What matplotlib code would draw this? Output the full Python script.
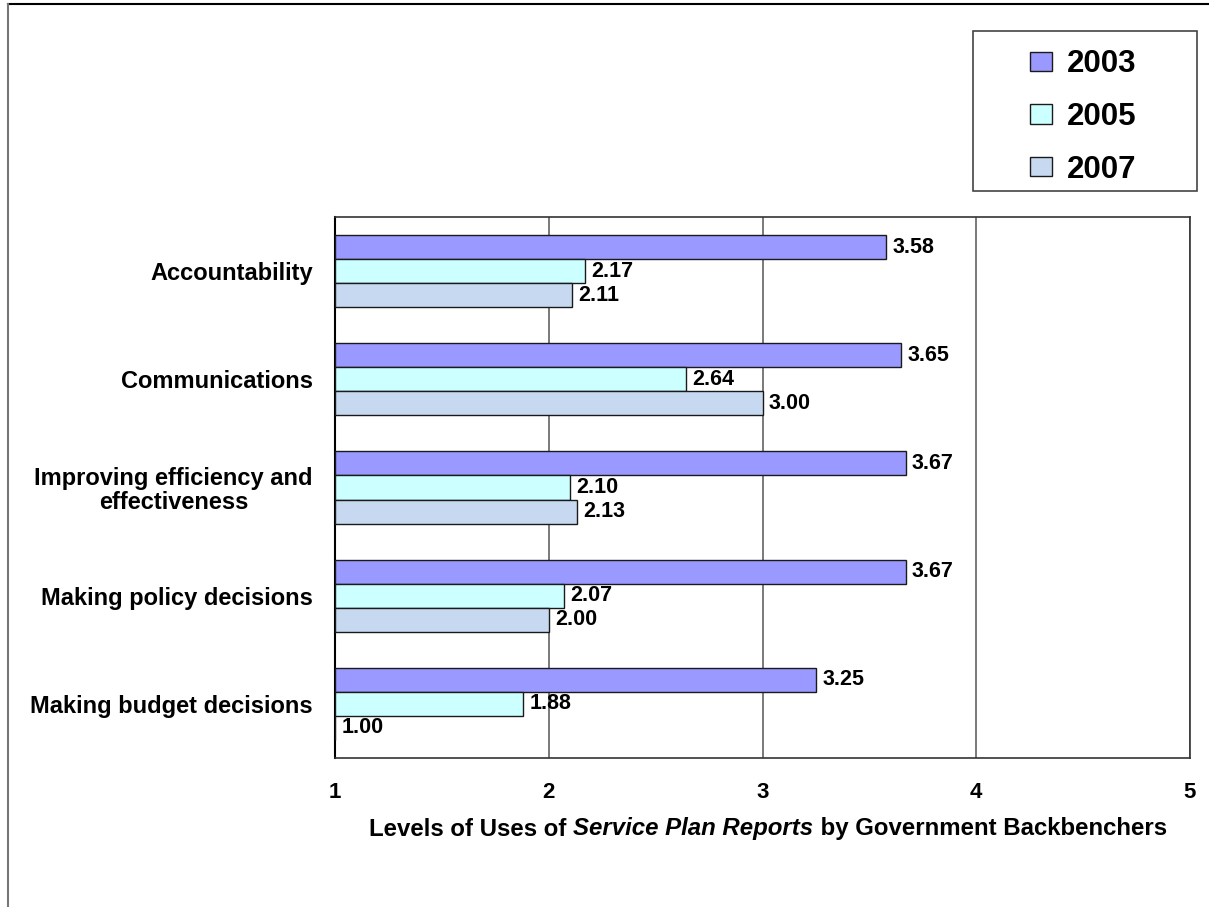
import matplotlib
matplotlib.use('Agg')
import matplotlib.pyplot as plt
from matplotlib.lines import Line2D
from matplotlib.patches import Rectangle
import numpy as np

plt.rcParams['font.family'] = ['Liberation Sans', 'DejaVu Sans']
plt.rcParams['font.weight'] = 'bold'

# survey purposes, top to bottom
uses = ['Accountability', 'Communications', 'Improving efficiency and\neffectiveness',
        'Making policy decisions', 'Making budget decisions']
years = ['2003', '2005', '2007']
score_2003 = [3.58, 3.65, 3.67, 3.67, 3.25]
score_2005 = [2.17, 2.64, 2.10, 2.07, 1.88]
score_2007 = [2.11, 3.00, 2.13, 2.00, 1.00]
colours = ['#9999FF', '#CCFFFF', '#C6D9F0']
x_ticks = [1, 2, 3, 4, 5]

W, H = 1209, 907
fig = plt.figure(figsize=(W / 100, H / 100), dpi=100)
ax = fig.add_axes([335 / W, 1 - 758 / H, (1190 - 335) / W, (758 - 217) / H])

base = 1.0
bar_h = 0.222
pos = np.arange(len(uses))
series = [score_2003, score_2005, score_2007]
handles = []
for k, (vals, col, yr) in enumerate(zip(series, colours, years)):
    ypos = pos - bar_h + k * bar_h
    widths = [v - base for v in vals]
    b = ax.barh(ypos, widths, height=bar_h, left=base, color=col,
                edgecolor='#1a1a1a', linewidth=1.0, label=yr, zorder=3)
    handles.append(b)
    for y, v in zip(ypos, vals):
        ax.annotate('%.2f' % v, (v, y), xytext=(4.5, 0), textcoords='offset points',
                    ha='left', va='center', fontsize=15.5, fontweight='bold', zorder=4)

ax.set_xlim(1, 5)
ax.set_ylim(len(uses) - 0.5, -0.5)
ax.set_xticks(x_ticks)
ax.set_xticklabels([str(t) for t in x_ticks], fontsize=16, fontweight='bold')
ax.tick_params(axis='x', length=0, pad=17.5)
ax.set_yticks(pos)
ax.set_yticklabels(uses, fontsize=17, fontweight='bold', multialignment='center',
                   linespacing=1.05)
ax.tick_params(axis='y', length=0, pad=16)
ax.grid(axis='x', color='#555555', linewidth=1.1, zorder=0)
for s in ax.spines.values():
    s.set_color('#333333')
    s.set_linewidth(1.2)
ax.spines['left'].set_color('black')
ax.spines['left'].set_linewidth(1.5)

# x-axis title with the italic report name in the middle
parts = [('Levels of Uses of ', 'normal'), ('Service Plan Reports', 'italic'),
         (' by Government Backbenchers', 'normal')]
renderer = fig.canvas.get_renderer()
texts = []
for txt, style in parts:
    t = fig.text(0, 1 - 829 / H, txt, fontsize=17.3, fontweight='bold', style=style,
                 ha='left', va='center')
    texts.append(t)
widths = [t.get_window_extent(renderer).width for t in texts]
x0 = 768 - sum(widths) / 2
for t, w in zip(texts, widths):
    t.set_x(x0 / W)
    x0 += w

# legend: entries without frame, box drawn separately
leg = fig.legend(handles=handles, labels=years, loc='center',
                 bbox_to_anchor=(1083 / W, 1 - 117 / H),
                 fontsize=22.5, frameon=False,
                 handlelength=0.72, handleheight=0.6, handletextpad=0.45,
                 labelspacing=0.72, borderpad=0, borderaxespad=0)
for txt in leg.get_texts():
    txt.set_fontweight('bold')
fig.add_artist(Rectangle((973 / W, 1 - 191 / H), (1197 - 973) / W, (191 - 31) / H,
                         transform=fig.transFigure, fill=False,
                         edgecolor='#444444', linewidth=1.2))

# outer frame: top and left edges
fig.add_artist(Line2D([8 / W, 1], [1 - 4 / H, 1 - 4 / H], color='black',
                      linewidth=1.5, transform=fig.transFigure))
fig.add_artist(Line2D([8 / W, 8 / W], [0, 1 - 4 / H], color='#777777',
                      linewidth=1.5, transform=fig.transFigure))

fig.savefig('out.png', dpi=100)
